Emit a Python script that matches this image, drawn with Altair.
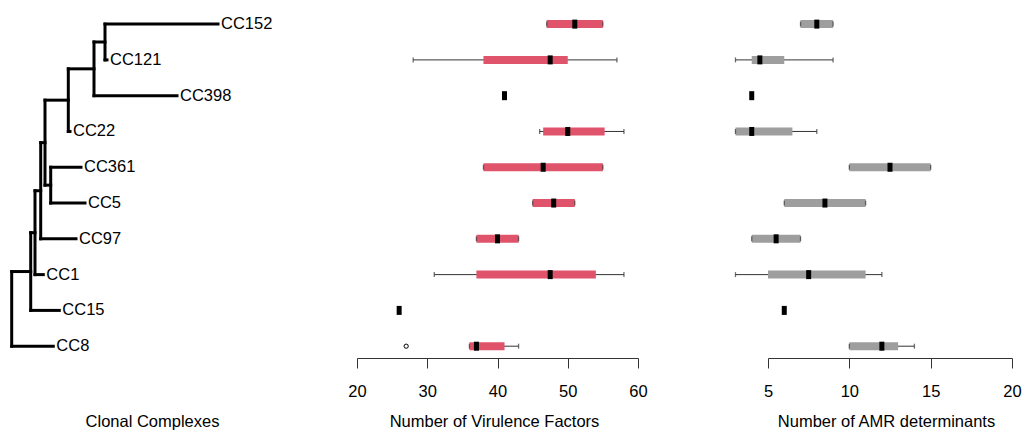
import altair as alt
import pandas as pd

# ---------------- data ----------------
cc = ["CC152", "CC121", "CC398", "CC22", "CC361", "CC5", "CC97", "CC1", "CC15", "CC8"]

# tree: internal nodes, their parents and depths (branch positions)
node_names = ["root", "n1", "n2", "n3", "n4", "n5", "n6", "n7", "n8"]
node_parent = ["", "root", "n1", "n2", "n3", "n4", "n5", "n6", "n4"]
node_depth = [0.0, 19.0, 23.3, 29.0, 33.3, 56.6, 82.3, 93.3, 39.0]
leaf_parent = ["n7", "n7", "n6", "n5", "n8", "n8", "n3", "n2", "n1", "root"]
leaf_depth = [206.3, 95.3, 165.3, 58.3, 69.3, 73.3, 64.3, 31.6, 47.6, 41.6]

# virulence factors: five-number summaries per CC
vf_min = [47, 28, 41, 46, 38, 45, 37, 31, 26, 36]
vf_q1 = [47, 38, 41, 46.5, 38, 45, 37, 37, 26, 36]
vf_med = [51, 47.5, 41, 50, 46.5, 48, 40, 47.5, 26, 37]
vf_q3 = [55, 50, 41, 55.25, 55, 51, 43, 54, 26, 41]
vf_max = [55, 57, 41, 58, 55, 51, 43, 58, 26, 43]
vf_out_cc = ["CC8"]
vf_out_val = [27]

# AMR determinants
amr_min = [7, 3, 4, 3, 10, 6, 4, 3, 6, 10]
amr_q1 = [7, 4, 4, 3, 10, 6, 4, 5, 6, 10]
amr_med = [8, 4.5, 4, 4, 12.5, 8.5, 5.5, 7.5, 6, 12]
amr_q3 = [9, 6, 4, 6.5, 15, 11, 7, 11, 6, 13]
amr_max = [9, 9, 4, 8, 15, 11, 7, 12, 6, 14]

vf_ticks = [20, 30, 40, 50, 60]
amr_ticks = [5, 10, 15, 20]

# ---------------- tree layout ----------------
depth = dict(zip(node_names, node_depth))
depth.update(dict(zip(cc, leaf_depth)))
parent = {n: p for n, p in zip(node_names, node_parent) if p}
parent.update(dict(zip(cc, leaf_parent)))
children = {n: [] for n in node_names}
for child, p in parent.items():
    children[p].append(child)
ypos = {c: i for i, c in enumerate(cc)}


def get_y(n):
    if n in ypos:
        return ypos[n]
    ys_ = [get_y(c) for c in children[n]]
    ypos[n] = (min(ys_) + max(ys_)) / 2
    return ypos[n]


get_y("root")
segs = []
for child, p in parent.items():
    segs.append(dict(x=depth[p], x2=depth[child], y=ypos[child], y2=ypos[child]))
for n in node_names:
    cy = [ypos[c] for c in children[n]]
    segs.append(dict(x=depth[n], x2=depth[n], y=min(cy), y2=max(cy)))
seg_df = pd.DataFrame(segs)
leaf_df = pd.DataFrame({"cc": cc, "depth": leaf_depth, "row": list(range(len(cc)))})

FONT = "Liberation Sans"
FS = 16.5
TITLE_Y = 68
yscale = alt.Scale(domain=[-0.45, 9.33], reverse=True, nice=False, zero=False)
TREE_W, VF_W, AMR_W, H = 219, 281, 244, 350
SPACING = 130

tree_axis = alt.Axis(title="Clonal Complexes", labels=False, ticks=False, domain=False,
                     grid=False, titleX=144, titleY=TITLE_Y, titleAlign="center",
                     titleBaseline="alphabetic", titleFontSize=FS, titleFont=FONT,
                     titleFontWeight="normal", titleColor="black")

tree_lines = alt.Chart(seg_df).mark_rule(strokeWidth=3, color="black", strokeCap="square").encode(
    x=alt.X("x:Q", scale=alt.Scale(domain=[-3.7, 215.3], nice=False, zero=False), axis=tree_axis),
    x2="x2:Q",
    y=alt.Y("y:Q", scale=yscale, axis=None),
    y2="y2:Q",
)
tree_labels = alt.Chart(leaf_df).mark_text(align="left", baseline="middle", dx=3,
                                           fontSize=FS, font=FONT, color="black").encode(
    x="depth:Q", y=alt.Y("row:Q", scale=yscale, axis=None), text="cc:N")
tree = (tree_lines + tree_labels).properties(width=TREE_W, height=H)


def box_panel(mins, q1s, meds, q3s, maxs, color, domain, ticks, title, title_x,
              width, out_cc=None, out_val=None):
    df = pd.DataFrame({"cc": cc, "row": list(range(len(cc))), "mn": mins,
                       "q1": q1s, "med": meds, "q3": q3s, "mx": maxs})
    axis = alt.Axis(values=ticks, grid=False, tickSize=10, tickColor="#333333",
                    domainColor="#333333", tickWidth=1, domainWidth=1,
                    labelFontSize=FS, labelFont=FONT, labelColor="black",
                    labelBaseline="alphabetic", labelPadding=28.7, labelFlush=False,
                    labelOverlap=False, title=title, titleX=title_x, titleY=TITLE_Y,
                    titleAlign="center", titleBaseline="alphabetic", titleFontSize=FS,
                    titleFont=FONT, titleFontWeight="normal", titleColor="black")
    xs = alt.Scale(domain=domain, nice=False, zero=False)
    base = alt.Chart(df)
    y = alt.Y("row:Q", scale=yscale, axis=None)
    whisk = base.mark_rule(color="#333333", strokeWidth=1).encode(
        x=alt.X("mn:Q", scale=xs, axis=axis), x2="mx:Q", y=y)
    box = base.mark_rule(color=color, strokeWidth=8, strokeCap="butt").encode(
        x="q1:Q", x2="q3:Q", y=y)
    st_lo = base.mark_tick(orient="vertical", size=5, thickness=1.3, color="#333333").encode(
        x="mn:Q", y=y)
    st_hi = base.mark_tick(orient="vertical", size=5, thickness=1.3, color="#333333").encode(
        x="mx:Q", y=y)
    med = base.mark_tick(orient="vertical", size=9, thickness=5, color="black",
                         opacity=1).encode(x="med:Q", y=y)
    layers = [whisk, box, st_lo, st_hi, med]
    if out_cc:
        odf = pd.DataFrame({"cc": out_cc, "val": out_val,
                            "row": [cc.index(c) for c in out_cc]})
        layers.append(alt.Chart(odf).mark_point(shape="circle", filled=False, size=18,
                                                color="black", strokeWidth=1,
                                                opacity=1).encode(
            x="val:Q", y=alt.Y("row:Q", scale=yscale, axis=None)))
    return alt.layer(*layers).properties(width=width, height=H)


vf = box_panel(vf_min, vf_q1, vf_med, vf_q3, vf_max, "#DF536B", [20, 60], vf_ticks,
               "Number of Virulence Factors", 137, VF_W, vf_out_cc, vf_out_val)
amr = box_panel(amr_min, amr_q1, amr_med, amr_q3, amr_max, "#9E9E9E", [5, 20], amr_ticks,
                "Number of AMR determinants", 118, AMR_W)

chart = alt.hconcat(tree, vf, amr, spacing=SPACING, bounds="flush").properties(
    padding=0, background="white"
).configure_view(stroke=None)

chart.save("out.html", embed_options={"renderer": "svg", "actions": False})
